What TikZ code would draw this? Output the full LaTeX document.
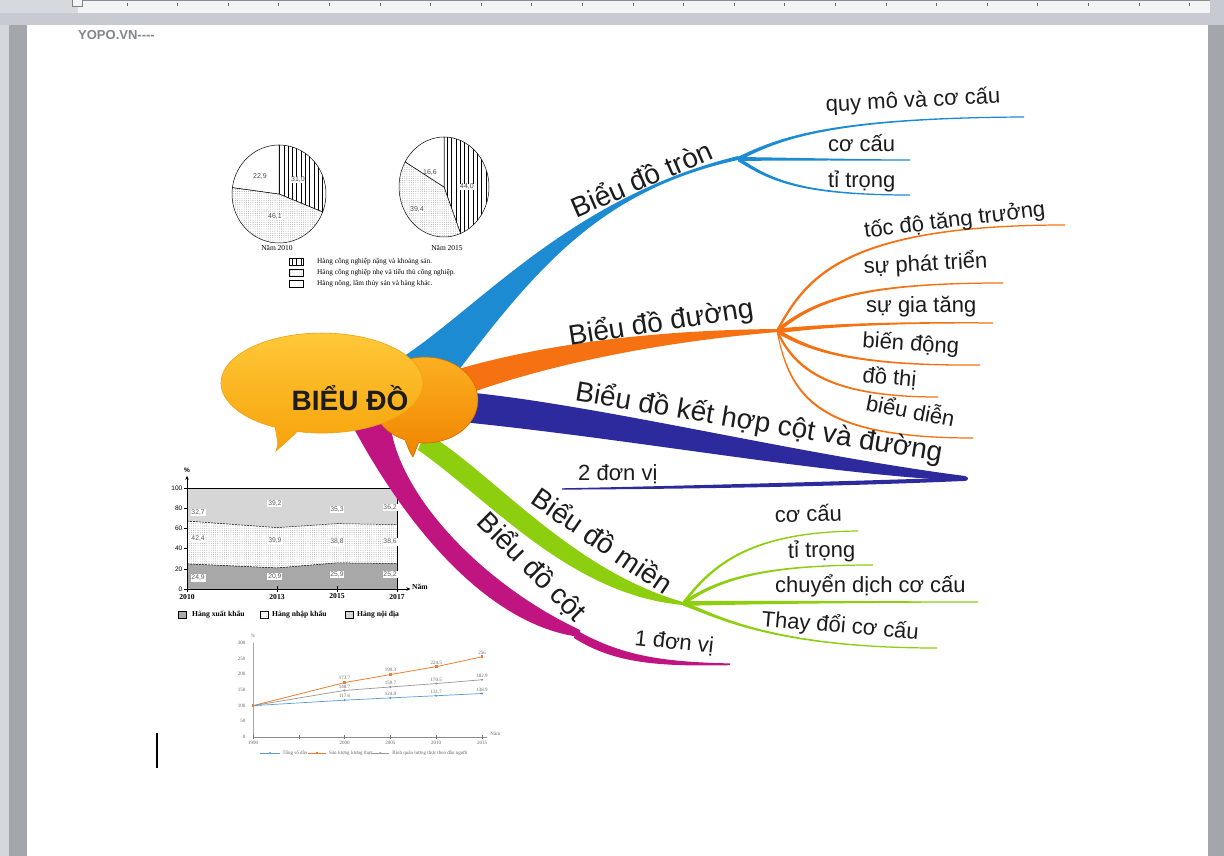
\documentclass[tikz,border=0pt]{standalone}
\usepackage{fontspec}
\setmainfont{Liberation Sans}
\newfontfamily\serifF{Liberation Serif}
\usetikzlibrary{calc,patterns,patterns.meta,arrows.meta}
\definecolor{cBlue}{RGB}{28,139,210}
\definecolor{cOrange}{RGB}{245,113,18}
\definecolor{cNavy}{RGB}{44,42,157}
\definecolor{cGreen}{RGB}{141,207,14}
\definecolor{cMag}{RGB}{192,20,128}
\definecolor{txt}{RGB}{28,28,28}
\definecolor{winGray}{RGB}{199,203,209}
\definecolor{rulerL}{RGB}{242,243,245}
\definecolor{rulerD}{RGB}{214,217,221}
\definecolor{sideD}{RGB}{163,166,171}
\definecolor{sideL}{RGB}{212,215,219}
\definecolor{yopo}{RGB}{125,135,145}
\definecolor{lcBlue}{RGB}{91,155,213}
\definecolor{lcOrange}{RGB}{237,125,49}
\definecolor{lcGray}{RGB}{150,150,150}
\definecolor{bubTop}{RGB}{255,202,58}
\definecolor{bubMid}{RGB}{255,196,45}
\definecolor{bubBot}{RGB}{246,162,10}
\definecolor{bub2Top}{RGB}{252,176,34}
\definecolor{bub2Bot}{RGB}{240,132,0}
\definecolor{areaTop}{RGB}{214,214,214}
\definecolor{areaBot}{RGB}{170,170,170}
\newcommand\subbr[6]{\fill[#1] ($(#2)+(0,-#6)$) .. controls ($(#3)+(0,-0.6*#6)$) and ($(#4)+(0,-0.3*#6)$) .. ($(#5)+(0,-0.6)$) -- ($(#5)+(0,0.6)$) .. controls ($(#4)+(0,0.3*#6)$) and ($(#3)+(0,0.6*#6)$) .. ($(#2)+(0,#6)$) -- cycle;}
\begin{document}
\begin{tikzpicture}[x=1pt,y=-1pt,
  big/.style={font=\fontsize{28}{30}\selectfont, text=txt, inner sep=0pt},
  sub/.style={font=\fontsize{22}{24}\selectfont, text=txt, inner sep=0pt, anchor=base west},
  pielab/.style={font=\fontsize{7}{8}\selectfont, text=black!70, inner sep=0.5pt},
  leg/.style={font=\serifF\fontsize{7.3}{8}\selectfont, inner sep=0pt, anchor=west},
  bleg/.style={font=\serifF\bfseries\fontsize{7.6}{8}\selectfont, inner sep=0pt},
  vlab/.style={font=\fontsize{6.8}{7}\selectfont, text=black!65, fill=white, inner sep=0.8pt},
  lclab/.style={font=\serifF\fontsize{5}{6}\selectfont, text=black!60, inner sep=0pt},
  stripeP/.style={postaction={pattern={Lines[angle=90,distance=4.3pt,line width=0.55pt]}}},
  dotP/.style={postaction={pattern={Dots[distance=2.2pt,radius=0.4pt]}, pattern color=black!45}},
]
\useasboundingbox (0,0) rectangle (1224,856);
% ---------- window ----------
\fill[winGray] (0,0) rectangle (1224,856);
\fill[rulerD] (0,0) rectangle (78,13);
\fill[rulerL] (78,1.5) rectangle (1210,13);
\fill[black!45] (78,0) rectangle (1210,1.5);
\foreach \i in {0,...,21} \draw[black!60, line width=0.8] ({127+50.6*\i},3.5) -- ++(0,3);
\draw[black!50, fill=rulerL] (72.5,-1) rectangle (82,6);
\fill[sideL] (0,25) rectangle (9,856);
\fill[sideD] (9,25) rectangle (27,856);
\fill[sideD] (1208,25) rectangle (1224,856);
\fill[white] (27,25) rectangle (1208,856);
\node[anchor=base west, font=\bfseries\fontsize{13}{14}\selectfont, text=yopo, inner sep=0pt] (yopo) at (78,40) {YOPO.VN-{}-{}-{}-};
\draw[black, line width=1.5] (157,733) -- (157,768);

% ---------- pie charts ----------
\coordinate (pc1) at (279,194);
\coordinate (pc2) at (444,187);
\path[draw=black, line width=0.5, fill=white, stripeP] (pc1) -- ++(-90:47 and 49) arc[start angle=-90, end angle=21.6, x radius=47, y radius=49] -- cycle;
\path[draw=black, line width=0.5, fill=white, dotP] (pc1) -- ++(21.6:47 and 49) arc[start angle=21.6, end angle=187.56, x radius=47, y radius=49] -- cycle;
\path[draw=black, line width=0.5, fill=white] (pc1) -- ++(187.56:47 and 49) arc[start angle=187.56, end angle=270, x radius=47, y radius=49] -- cycle;
\path[draw=black, line width=0.5, fill=white, stripeP] (pc2) -- ++(-90:45 and 50) arc[start angle=-90, end angle=68.4, x radius=45, y radius=50] -- cycle;
\path[draw=black, line width=0.5, fill=white, dotP] (pc2) -- ++(68.4:45 and 50) arc[start angle=68.4, end angle=210.24, x radius=45, y radius=50] -- cycle;
\path[draw=black, line width=0.5, fill=white] (pc2) -- ++(210.24:45 and 50) arc[start angle=210.24, end angle=270, x radius=45, y radius=50] -- cycle;
\node[pielab] (pl1) at (260,177) {22,9};
\node[pielab, fill=white] (pl2) at (298,180) {31,0};
\node[pielab, fill=white] (pl3) at (275,217) {46,1};
\node[pielab] (pl4) at (430,173) {16,6};
\node[pielab, fill=white] (pl5) at (467,187) {44,0};
\node[pielab, fill=white] (pl6) at (417,210) {39,4};
\node[font=\serifF\fontsize{7.5}{8}\selectfont, inner sep=0pt] (n2010) at (277,248) {Năm 2010};
\node[font=\serifF\fontsize{7.5}{8}\selectfont, inner sep=0pt] (n2015) at (447,248) {Năm 2015};
\draw[line width=0.5, fill=white, stripeP] (289,258) rectangle (303,265);
\draw[line width=0.5, fill=white, dotP] (289,269) rectangle (303,276);
\draw[line width=0.5, fill=white] (289,280) rectangle (303,287);
\node[leg] (lg1) at (317,261.5) {Hàng công nghiệp nặng và khoáng sản.};
\node[leg] (lg2) at (317,272.5) {Hàng công nghiệp nhẹ và tiểu thủ công nghiệp.};
\node[leg] (lg3) at (317,283.5) {Hàng nông, lâm thủy sản và hàng khác.};

% ---------- area chart ----------
\begin{scope}[shift={(187,589)}, x=30pt, y=1.01pt]
\fill[areaTop] (0,0) rectangle (7,100);
\path[fill=white, dotP] (0,0) -- (0,67.3) -- (3,60.8) -- (5,64.7) -- (7,63.8) -- (7,0) -- cycle;
\path[fill=areaBot, postaction={pattern={Dots[distance=2pt,radius=0.35pt]}, pattern color=black!40}] (0,0) -- (0,24.9) -- (3,20.9) -- (5,25.9) -- (7,25.2) -- (7,0) -- cycle;
\draw[line width=0.5, dash pattern=on 2pt off 1pt] (0,67.3) -- (3,60.8) -- (5,64.7) -- (7,63.8);
\draw[line width=0.5, dash pattern=on 2pt off 1pt] (0,24.9) -- (3,20.9) -- (5,25.9) -- (7,25.2);
\draw[line width=0.6] (0,100) -- (7,100) -- (7,0);
\draw[line width=0.7, -{Stealth[length=4pt,width=3.5pt]}] (0,0) -- (0,112);
\draw[line width=0.7, -{Stealth[length=4pt,width=3.5pt]}] (0,0) -- (7.45,0);
\foreach \v in {0,20,...,100} {
  \draw[line width=0.6] (-0.1,\v) -- (0,\v);
  \node[anchor=east, font=\fontsize{6.5}{7}\selectfont, inner sep=0pt] (ay\v) at (-0.15,\v) {\v};
}
\foreach \t in {0,3,5,7} \draw[line width=0.8] (\t,-2.5) -- (\t,2.5);
\node[font=\bfseries\fontsize{6.5}{7}\selectfont, inner sep=0pt] (apct) at (0,118) {\%};
\node[bleg, anchor=west] (anam) at (7.5,2) {Năm};
\node[bleg] (ax1) at (0,-8) {2010};
\node[bleg] (ax2) at (3,-8) {2013};
\node[bleg] (ax3) at (5,-7) {2015};
\node[bleg] (ax4) at (7,-8) {2017};
\node[vlab] (v1) at (0.37,76) {32,7};
\node[vlab] (v2) at (2.93,85) {39,2};
\node[vlab] (v3) at (5,79) {35,3};
\node[vlab] (v4) at (6.77,81) {36,2};
\node[vlab] (v5) at (0.37,49.5) {42,4};
\node[vlab] (v6) at (2.93,47.5) {39,9};
\node[vlab] (v7) at (5,46.5) {38,8};
\node[vlab] (v8) at (6.77,46.5) {38,6};
\node[vlab] (v9) at (0.37,11) {24,9};
\node[vlab] (v10) at (2.93,12) {20,9};
\node[vlab] (v11) at (5,14) {25,9};
\node[vlab] (v12) at (6.77,14) {25,2};
\end{scope}
\draw[line width=0.5, fill=areaBot] (178,611) rectangle (186,618);
\draw[line width=0.5, fill=white, dotP] (260,611) rectangle (268,618);
\draw[line width=0.5, fill=areaTop] (345,611) rectangle (353,618);
\node[bleg, anchor=west] (alg1) at (192,614.5) {Hàng xuất khẩu};
\node[bleg, anchor=west] (alg2) at (272,614.5) {Hàng nhập khẩu};
\node[bleg, anchor=west] (alg3) at (357,614.5) {Hàng nội địa};

% ---------- line chart ----------
\begin{scope}[shift={(253,737)}, x=9.16pt, y=0.3133pt]
\draw[black!35, line width=0.4] (0,0) -- (0,300);
\draw[black!45, line width=0.5] (0,0) -- (25.5,0);
\foreach \t in {0,5,10,15,20,25} \draw[black!55, line width=0.5] (\t,-5) -- (\t,5);
\foreach \v in {0,50,...,300} \node[lclab, anchor=east] (ly\v) at (-0.8,\v) {\v};
\node[lclab] (lx1) at (0,-20) {1990};
\node[lclab] (lx2) at (10,-20) {2000};
\node[lclab] (lx3) at (15,-20) {2005};
\node[lclab] (lx4) at (20,-20) {2010};
\node[lclab] (lx5) at (25,-20) {2015};
\node[lclab] (lpct) at (0,322) {\%};
\node[lclab, anchor=west] (lnam) at (25.9,9) {Năm};
\draw[lcOrange, line width=0.8] (0,100) -- (10,173.7) -- (15,199.3) -- (20,224.5) -- (25,256);
\draw[lcGray, line width=0.7] (0,100) -- (10,148.7) -- (15,159.7) -- (20,170.5) -- (25,182.9);
\draw[lcBlue, line width=0.7] (0,100) -- (10,117.6) -- (15,124.8) -- (20,131.7) -- (25,138.9);
\foreach \p in {(0,100),(10,173.7),(15,199.3),(20,224.5),(25,256)} \fill[lcOrange] \p ++(-1.4pt,-1.4pt) rectangle ++(2.8pt,2.8pt);
\foreach \p in {(10,148.7),(15,159.7),(20,170.5),(25,182.9)} \fill[lcGray] \p circle[radius=1.2pt];
\foreach \p in {(10,117.6),(15,124.8),(20,131.7),(25,138.9)} \fill[lcBlue] \p circle[radius=1.2pt];
\node[lclab] (o1) at (10,188) {173.7};
\node[lclab] (o2) at (15,213) {199.3};
\node[lclab] (o3) at (20,238) {224.5};
\node[lclab] (o4) at (25,270) {256};
\node[lclab] (g1) at (10,160) {148.7};
\node[lclab] (g2) at (15,172) {159.7};
\node[lclab] (g3) at (20,183) {170.5};
\node[lclab] (g4) at (25,196) {182.9};
\node[lclab] (b1) at (10,131) {117.6};
\node[lclab] (b2) at (15,138) {124.8};
\node[lclab] (b3) at (20,145) {131.7};
\node[lclab] (b4) at (25,152) {138.9};
\draw[lcBlue, line width=0.6] (0.8,-51) -- (2.9,-51);
\fill[lcBlue] (1.86,-51) circle[radius=1.1pt];
\node[lclab, anchor=west] (lg5) at (3.2,-51) {Tổng số dân};
\draw[lcOrange, line width=0.6] (6,-51) -- (8,-51);
\fill[lcOrange] (7,-51) ++(-1.2pt,-1.2pt) rectangle ++(2.4pt,2.4pt);
\node[lclab, anchor=west] (lg6) at (8.3,-51) {Sản lượng lương thực};
\draw[lcGray, line width=0.6] (12.9,-51) -- (14.9,-51);
\fill[lcGray] (13.9,-51) circle[radius=1.1pt];
\node[lclab, anchor=west] (lg7) at (15.2,-51) {Bình quân lương thực theo đầu người};
\end{scope}

% ---------- main branches ----------
\fill[cBlue] (385,368) .. controls (470,320) and (560,200) .. (738,156) -- (738,160) .. controls (600,190) and (535,270) .. (455,375) -- cycle;
\fill[cOrange] (455,370) .. controls (540,345) and (650,330) .. (778,329) -- (778,332) .. controls (680,340) and (560,360) .. (465,395) -- cycle;
\fill[cNavy] (465,392) .. controls (600,405) and (800,455) .. (965,476) .. controls (969,477) and (969,480.5) .. (965,481) .. controls (820,474) and (640,440) .. (462,422) -- cycle;
\fill[cNavy] (562,488.3) .. controls (700,485.5) and (850,481) .. (963,477.5) -- (963,481) .. controls (850,486) and (700,489) .. (562,489.6) -- cycle;
\fill[cGreen] (425,432) .. controls (490,470) and (570,570) .. (683,602) -- (683,605) .. controls (570,595) and (490,500) .. (418,450) -- cycle;
\fill[cMag] (390,420) .. controls (395,490) and (478,582) .. (580,630) -- (580,637) .. controls (500,627) and (418,548) .. (352,425) -- cycle;
\fill[cMag] (576,630) .. controls (620,655) and (660,662) .. (730,663.4) -- (730,665.2) .. controls (660,666.5) and (615,664) .. (574,638) -- cycle;

% ---------- sub branches ----------
\coordinate (hB) at (738,159);
\coordinate (eB1) at (1024,117);
\coordinate (eB2) at (910,160);
\coordinate (eB3) at (910,195);
\subbr{cBlue}{hB}{780,138}{830,118}{eB1}{2.2}
\subbr{cBlue}{hB}{800,159}{860,160}{eB2}{2}
\subbr{cBlue}{hB}{770,180}{800,195}{eB3}{2.2}
\coordinate (hO) at (777,331);
\coordinate (eO1) at (1065,225);
\coordinate (eO2) at (1003,283);
\coordinate (eO3) at (993,323);
\coordinate (eO4) at (980,365);
\coordinate (eO5) at (938,397);
\coordinate (eO6) at (973,438);
\subbr{cOrange}{hO}{805,280}{840,225}{eO1}{2.4}
\subbr{cOrange}{hO}{815,300}{860,283}{eO2}{2.4}
\subbr{cOrange}{hO}{830,325}{900,322}{eO3}{2.4}
\subbr{cOrange}{hO}{810,350}{850,366}{eO4}{2.4}
\subbr{cOrange}{hO}{795,370}{830,397}{eO5}{2.4}
\subbr{cOrange}{hO}{790,395}{815,438}{eO6}{2.4}
\coordinate (hG) at (683,603.5);
\coordinate (eG1) at (858,531);
\coordinate (eG2) at (873,565);
\coordinate (eG3) at (978,602);
\coordinate (eG4) at (937,648);
\subbr{cGreen}{hG}{712,565}{750,532}{eG1}{2.2}
\subbr{cGreen}{hG}{720,578}{765,565}{eG2}{2.2}
\subbr{cGreen}{hG}{780,602}{880,602}{eG3}{2.4}
\subbr{cGreen}{hG}{715,615}{770,648}{eG4}{2.2}

% ---------- central bubbles ----------
\shade[top color=bub2Top, bottom color=bub2Bot, draw={rgb,255:red,200;green,110;blue,0}, line width=0.6]
  (418.5,442.7) arc[start angle=97, end angle=-248, x radius=53, y radius=43]
  .. controls (408,448) and (410,453) .. (413,457) .. controls (415,452) and (417,447) .. (418.5,442.7) -- cycle;
\shade[top color=bubTop, middle color=bubMid, bottom color=bubBot, draw={rgb,255:red,240;green,160;blue,20}, line width=0.6]
  (297,431.5) arc[start angle=104.3, end angle=-242.3, x radius=101, y radius=50]
  .. controls (278,440) and (278,447) .. (276,451) .. controls (285,443) and (292,437) .. (297,431.5) -- cycle;
\node[font=\bfseries\fontsize{28}{30}\selectfont, text=txt, anchor=base, inner sep=0pt] (root) at (350,410) {BIỂU ĐỒ};

% ---------- branch labels ----------
\node[big, rotate=23.5] (tB) at (641,178) {Biểu đồ tròn};
\node[big, rotate=9] (tO) at (661,323) {Biểu đồ đường};
\node[big, rotate=-9.5] (tN) at (759,423) {Biểu đồ kết hợp cột và đường};
\node[big, rotate=-34.5] (tG) at (603,540) {Biểu đồ miền};
\node[big, rotate=-45] (tM) at (532,567) {Biểu đồ cột};

\node[sub, rotate=3] (tB1) at (826,112) {quy mô và cơ cấu};
\node[sub] (tB2) at (828,152) {cơ cấu};
\node[sub] (tB3) at (828,187) {tỉ trọng};
\node[sub, rotate=7] (tO1) at (865,238) {tốc độ tăng trưởng};
\node[sub, rotate=3] (tO2) at (864,274) {sự phát triển};
\node[sub, rotate=0.5] (tO3) at (866,313) {sự gia tăng};
\node[sub, rotate=-4] (tO4) at (862,347) {biến động};
\node[sub, rotate=-5] (tO5) at (862,382) {đồ thị};
\node[sub, rotate=-11] (tO6) at (865,410) {biểu diễn};
\node[sub] (tN1) at (578,480) {2 đơn vị};
\node[sub, rotate=2] (tG1) at (775,523) {cơ cấu};
\node[sub, rotate=1] (tG2) at (788,558) {tỉ trọng};
\node[sub] (tG3) at (775,592) {chuyển dịch cơ cấu};
\node[sub, rotate=-5] (tG4) at (761,626) {Thay đổi cơ cấu};
\node[sub, rotate=-6] (tM1) at (634,645) {1 đơn vị};
\end{tikzpicture}
\end{document}
